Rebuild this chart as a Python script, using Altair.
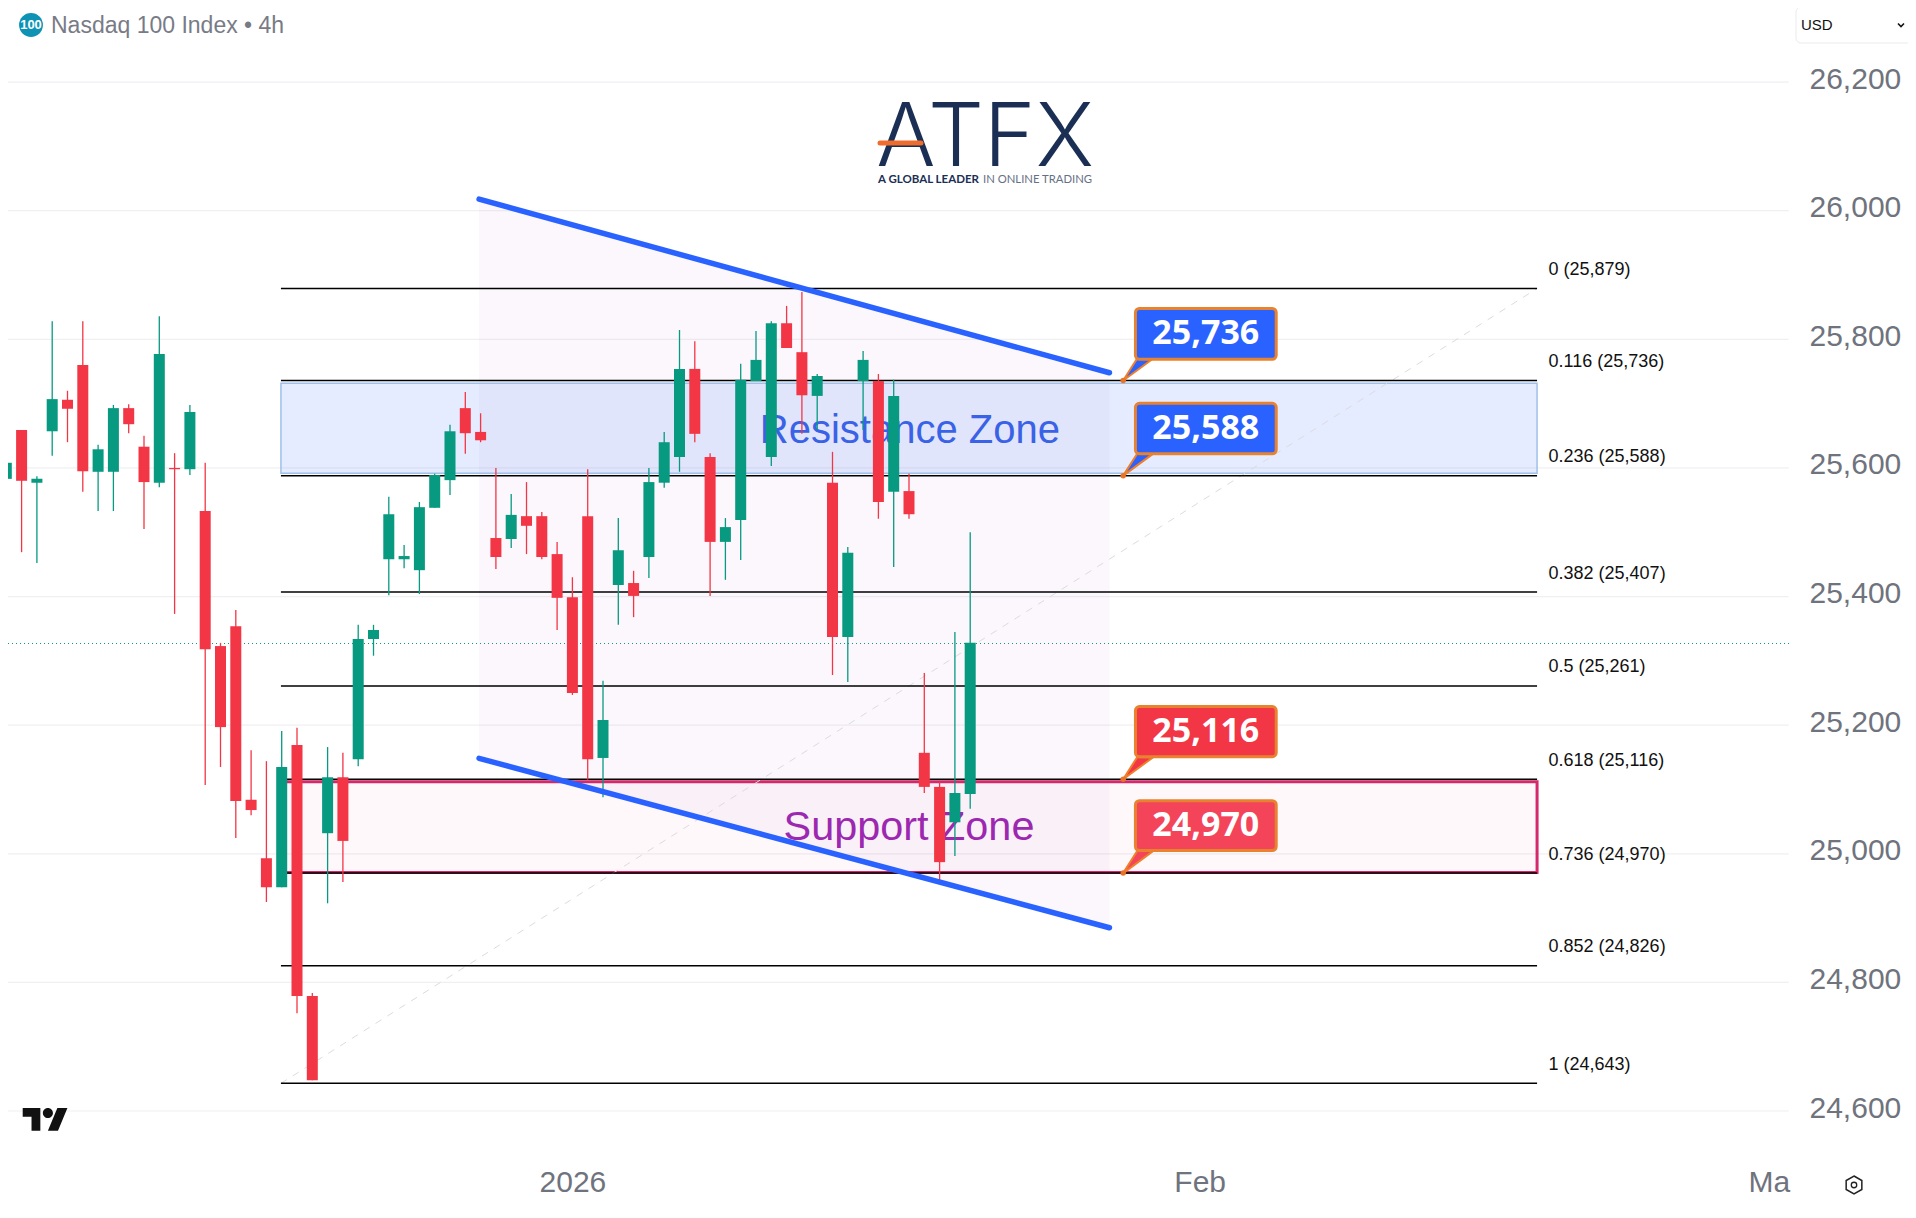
import altair as alt
import pandas as pd

# ---------- candles (4h bars) ----------
opens = [25583,25659,25577,25657,25706,25760,25594,25594,25693,25633,25577,25600,25598,25533,25323,25354,25084,24993,24948,25169,24779,25032,25119,25147,25334,25458,25458,25441,25538,25581,25693,25656,25491,25489.5,25525,25525,25466,25399,25525,25149,25418,25421,25461.5,25577,25617,25754,25617,25485,25519,25735,25617,25825,25780,25712,25577,25337,25735,25735,25563,25564,25157,25104,25049,25093]
highs = [25640,25659,25587,25828,25720,25828,25636,25698,25699,25650,25836,25623,25698,25608,25328,25379,25161,25144,25191,25196,24783.5,25166,25157,25356,25356,25555,25480,25547,25591,25667,25718,25685,25600,25559.5,25578,25531.5,25485,25430,25598,25269,25522,25440,25600,25656,25814.5,25797,25623,25522,25762,25813,25828,25852,25873.5,25746,25625,25477,25782,25746,25737,25591,25281,25112,25345,25500]
lows = [25580,25469,25452,25619,25640,25563,25533,25533,25654,25505,25570,25373,25589,25107,25135,25024.5,25060,24925,24948,24752,24648,24923,24956,25136,25308,25402,25444,25404,25538,25558,25622,25640,25443,25475.5,25466,25458,25348,25247,25115,25088,25356,25368,25429,25569,25594,25640,25401,25426,25457,25735,25603,25786.5,25653,25659,25278,25267,25659,25521,25446,25521,25094.5,24956,24996.5,25070]
closes = [25608,25580,25583,25707,25692,25595,25629,25693,25668,25578,25777,25598,25687,25318,25197,25082,25068,24948,25135,24779,24648,25119,25020,25334,25348,25528,25463,25539,25589,25657,25654,25643,25461.5,25527,25510,25461.5,25398,25250,25147,25208,25472,25401,25578,25640,25754,25653,25485,25508,25737,25768,25825,25786.5,25713,25743,25337,25468,25768,25547,25712,25528,25104,24987,25094.5,25328]

# ---------- grid / axis ----------
price_ticks = [24600,24800,25000,25200,25400,25600,25800,26000,26200]
date_ticks = [37,78,115.2]

# ---------- fibonacci ----------
fib_ratios = ["0","0.116","0.236","0.382","0.5","0.618","0.736","0.852","1"]
fib_levels = [25879,25736,25588,25407,25261,25116,24970,24826,24643]
fib_start, fib_end, fib_label_at = 17.95, 100.05, 100.8

# ---------- channel ----------
chan_x = [30.9,72.1]
chan_upper = [26018,25748]
chan_lower = [25148.5,24885]

# ---------- zones ----------
zone_x = [17.95,100.05]
res_zone = [25731.6,25591.6]
sup_zone = [25112,24971]

# ---------- callouts ----------
call_levels = [25736,25588,25116,24970]
call_text = ["25,736","25,588","25,116","24,970"]
call_top = [25848,25700.5,25229,25082.5]
call_bot = [25769,25622,25151,25005]
call_fill = ["#2962ff","#2962ff","#f23645","#f4445a"]
call_x = [73.0,73.8,83.0,78.4]

last_price = 25327
UP, DOWN = "#089981", "#f23645"
FONT = "Liberation Sans"

xs = alt.Scale(domain=[0.111,124.294], nice=False, zero=False, padding=0)
ys = alt.Scale(domain=[24452.3,26315.2], nice=False, zero=False, padding=0)
def X(c): return alt.X(c, type="quantitative", scale=xs, axis=None)
def Y(c): return alt.Y(c, type="quantitative", scale=ys, axis=None)

candles = pd.DataFrame({"i":range(len(opens)),"o":opens,"h":highs,"l":lows,"c":closes})
candles["col"] = [UP if c>=o else DOWN for o,c in zip(opens,closes)]
dir_color = alt.Color("col:N", scale=None, legend=None)

one = pd.DataFrame({"a":[0]})
layers = []

# axes only
layers.append(alt.Chart(pd.DataFrame({"x":[37.0],"y":[25000]})).mark_point(opacity=0).encode(
    x=alt.X("x:Q", scale=xs, title=None, axis=alt.Axis(values=date_ticks, grid=False, domain=False, ticks=False, tickSize=0,
        labelExpr="datum.value==37?'2026':datum.value==78?'Feb':'Ma'", labelFont=FONT, labelFontSize=30, labelColor="#6f737d",
        labelPadding=-24, labelBaseline="middle", labelOverlap=False, labelFlush=False, labelBound=False)),
    y=alt.Y("y:Q", scale=ys, title=None, axis=alt.Axis(values=price_ticks, grid=False, domain=False, ticks=False, tickSize=0,
        labelExpr="slice(toString(datum.value),0,2)+','+slice(toString(datum.value),2)",
        orient="left", labelFont=FONT, labelFontSize=30, labelColor="#6f737d", labelAlign="left", labelBaseline="middle",
        labelPadding=-1801, labelOffset=-3, labelOverlap=False, labelFlush=False, labelBound=False)),
))

# grid
grid_df = pd.DataFrame({"p":price_ticks,"x0":[0.111]*9,"x1":[116.5]*9})
layers.append(alt.Chart(grid_df).mark_rule(color="#f0f0f3",strokeWidth=1.2).encode(y=Y("p"),x=X("x0"),x2="x1"))

# channel fill
chan_df = pd.DataFrame({"x":chan_x,"u":chan_upper,"l":chan_lower})
layers.append(alt.Chart(chan_df).mark_area(color="#9c27b0",opacity=0.04).encode(x=X("x"),y=Y("u"),y2="l"))

# zones
zdf = pd.DataFrame({"x0":[zone_x[0]],"x1":[zone_x[1]],"t":[res_zone[0]],"b":[res_zone[1]]})
layers.append(alt.Chart(zdf).mark_rect(fill="#2962ff",fillOpacity=0.12,stroke="#9fc0e8",strokeWidth=1.5).encode(x=X("x0"),x2="x1",y=Y("t"),y2="b"))
zdf2 = pd.DataFrame({"x0":[zone_x[0]],"x1":[zone_x[1]],"t":[sup_zone[0]],"b":[sup_zone[1]]})
layers.append(alt.Chart(zdf2).mark_rect(fill="#e91e63",fillOpacity=0.03,stroke="#d4296b",strokeWidth=3).encode(x=X("x0"),x2="x1",y=Y("t"),y2="b"))

# zone names
names = pd.DataFrame({"x":[59.06],"p":[25658],"t":["Resistance Zone"]})
layers.append(alt.Chart(names).mark_text(font=FONT,fontSize=40,align="center",baseline="middle",color="#3a62e6").encode(x=X("x"),y=Y("p"),text="t:N"))
names2 = pd.DataFrame({"x":[59.0],"p":[25040],"t":["Support Zone"]})
layers.append(alt.Chart(names2).mark_text(font=FONT,fontSize=41.4,align="center",baseline="middle",color="#9c27b0").encode(x=X("x"),y=Y("p"),text="t:N"))

# fib diagonal
diag = pd.DataFrame({"x":[fib_start,fib_end],"p":[fib_levels[-1],fib_levels[0]]})
layers.append(alt.Chart(diag).mark_line(color="#dcdcdc",strokeWidth=1,strokeDash=[7,7]).encode(x=X("x"),y=Y("p")))

# fib levels
fib = pd.DataFrame({"p":fib_levels,"x0":[fib_start]*9,"x1":[fib_end]*9,"xl":[fib_label_at]*9,
                    "t":[f"{r} ({v:,})" for r,v in zip(fib_ratios,fib_levels)]})
layers.append(alt.Chart(fib).mark_rule(color="#000000",strokeWidth=1.5).encode(y=Y("p"),x=X("x0"),x2="x1"))
layers.append(alt.Chart(fib).mark_text(font=FONT,fontSize=18,color="#111111",align="left",baseline="middle",dy=-18.5).encode(x=X("xl"),y=Y("p"),text="t:N"))

# last price
lp = pd.DataFrame({"p":[last_price],"x0":[0.111],"x1":[116.6]})
layers.append(alt.Chart(lp).mark_rule(color=UP,strokeWidth=1,strokeDash=[1,3]).encode(y=Y("p"),x=X("x0"),x2="x1"))

# candles
layers.append(alt.Chart(candles).mark_rule(strokeWidth=1.3).encode(x=X("i"),y=Y("h"),y2="l",color=dir_color))
layers.append(alt.Chart(candles).mark_bar(size=11).encode(x=X("i"),y=Y("o"),y2="c",color=dir_color))

# trend lines
tl = pd.DataFrame({"x":chan_x*2,"p":chan_upper+chan_lower,"g":["u","u","l","l"]})
layers.append(alt.Chart(tl).mark_line(color="#2962ff",strokeWidth=5.5,strokeCap="round").encode(x=X("x"),y=Y("p"),detail="g:N"))

# callouts
call = pd.DataFrame({"tip":[call_x[0]]*4,"p":call_levels,"x0":[call_x[1]]*4,"x1":[call_x[2]]*4,"xm":[call_x[3]]*4,
                     "t":call_top,"b":call_bot,"m":[(a+b)/2 for a,b in zip(call_top,call_bot)],"txt":call_text,"f":call_fill})
layers.append(alt.Chart(call).mark_point(shape="M0 0L1.4 -2.2L3 -2.2Z",filled=True,size=400,opacity=1,stroke="#ef7f2b",strokeWidth=2).encode(x=X("tip"),y=Y("p"),fill=alt.Fill("f:N",scale=None,legend=None)))
layers.append(alt.Chart(call).mark_circle(size=30,color="#e8742a",opacity=1).encode(x=X("tip"),y=Y("p")))
layers.append(alt.Chart(call).mark_rect(cornerRadius=4,stroke="#e8822f",strokeWidth=3).encode(x=X("x0"),x2="x1",y=Y("t"),y2="b",fill=alt.Fill("f:N",scale=None,legend=None)))
layers.append(alt.Chart(call).mark_text(font="Open Sans",fontWeight="bold",fontSize=34,color="white",align="center",baseline="middle").encode(x=X("xm"),y=Y("m"),text="txt:N"))

# ---------- chrome (pixel positioned) ----------
def ptext(txt,x,y,**kw):
    return alt.Chart(one).mark_text(text=txt,baseline="middle",align=kw.pop("align","left"),**kw).encode(x=alt.value(x),y=alt.value(y))
def ppath(path,x,y,size,**kw):
    return alt.Chart(one).mark_point(shape=path,size=size,opacity=1,**kw).encode(x=alt.value(x),y=alt.value(y))

layers.append(alt.Chart(one).mark_circle(size=570,color="#0f93b5",opacity=1).encode(x=alt.value(23),y=alt.value(17)))
layers.append(ptext("100",23,17,align="center",font=FONT,fontSize=13,fontWeight="bold",color="white"))
layers.append(ptext("Nasdaq 100 Index • 4h",43,17.5,font=FONT,fontSize=23,color="#787b86"))
layers.append(alt.Chart(one).mark_rect(cornerRadius=5,fill="white",stroke="#ebebeb",strokeWidth=1).encode(x=alt.value(1788),x2=alt.value(1904),y=alt.value(-1),y2=alt.value(35)))
layers.append(ptext("USD",1793,17,font=FONT,fontSize=15,color="#111111"))
layers.append(ppath("M-1 -0.5L0 0.5L1 -0.5",1893,17,36,stroke="#111111",strokeWidth=1.6,filled=False))

# logo
layers.append(ptext("ATFX",977,132,align="center",font="Inter",fontSize=88,fontWeight=300,color="#1b2f55"))
layers.append(alt.Chart(one).mark_rule(color="#ee6c2d",strokeWidth=5,strokeCap="round").encode(x=alt.value(872),x2=alt.value(913),y=alt.value(135)))
layers.append(ptext("A GLOBAL LEADER",870,172,font="Lato",fontSize=11.5,fontWeight="bold",color="#1b2f55"))
layers.append(ptext("IN ONLINE TRADING",975,172,font="Lato",fontSize=11.3,color="#667085"))

# tradingview mark + settings
layers.append(ppath("M14 22H7V11H0V4h14v18zM28 22h-8l7.5-18h8L28 22zM20 12a4 4 0 1 0 0-8 4 4 0 0 0 0 8z",14.7,1095,6.35,filled=True,fill="#111111",strokeWidth=0))
layers.append(ppath("M0 -1L0.87 -0.5L0.87 0.5L0 1L-0.87 0.5L-0.87 -0.5Z",1846,1177,324,stroke="#222222",strokeWidth=1.5,filled=False))
layers.append(ppath("M-1 0a1 1 0 1 0 2 0a1 1 0 1 0 -2 0Z",1846,1177,30,stroke="#222222",strokeWidth=1.3,filled=False))

chart = (alt.layer(*layers)
         .resolve_axis(x="independent", y="independent")
         .properties(width=1900,height=1198,padding=0,autosize=alt.AutoSizeParams(type="none"),background="white")
         .configure_view(stroke=None))
chart.save("out.html", embed_options={"renderer": "svg", "actions": False})
